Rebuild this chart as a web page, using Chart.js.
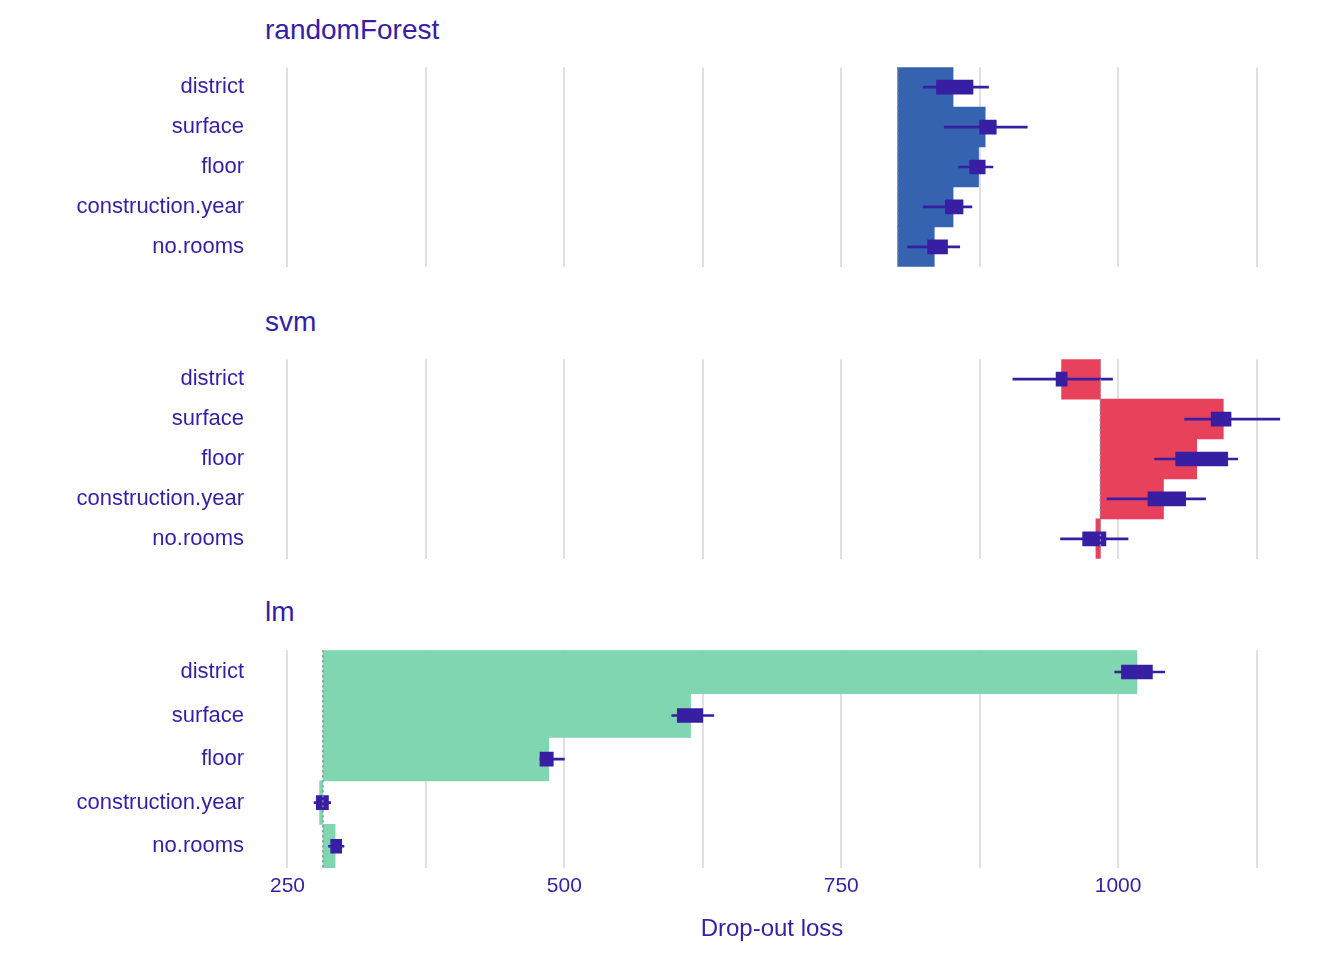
<!DOCTYPE html>
<html><head><meta charset="utf-8">
<script src="https://cdn.jsdelivr.net/npm/chart.js"></script>
<style>
body{margin:0;width:1344px;height:960px;background:#fff;position:relative;font-family:"Liberation Sans",Arial,sans-serif;overflow:hidden}
.t{position:absolute;left:265px;color:#371ea3;font-size:28px;line-height:28px}
.c{position:absolute;left:0;width:1344px}
</style></head><body>
<div class="t" style="top:16px">randomForest</div>
<div class="t" style="top:308px">svm</div>
<div class="t" style="top:598px">lm</div>
<div class="c" style="top:44px;height:246px"><canvas id="c0"></canvas></div>
<div class="c" style="top:336px;height:246px"><canvas id="c1"></canvas></div>
<div class="c" style="top:627px;height:333px"><canvas id="c2"></canvas></div>
<script>
const variables = ["district","surface","floor","construction.year","no.rooms"];
const models = ["randomForest","svm","lm"];
const baselines = [801, 984, 282];
const lossRF  = [851, 880, 874, 851, 834];
const lossSVM = [949, 1095, 1071, 1041, 980];
const lossLM  = [1017, 614, 486, 279, 293];
const boxLoRF  = [836, 875, 866, 844, 828], boxHiRF  = [869, 890, 880, 860, 846];
const whLoRF   = [824, 843, 856, 824, 810], whHiRF   = [883, 918, 887, 868, 857];
const boxLoSVM = [944, 1084, 1052, 1027, 968], boxHiSVM = [954, 1102, 1099, 1061, 989];
const whLoSVM  = [905, 1060, 1033, 990, 948], whHiSVM  = [995, 1146, 1108, 1079, 1009];
const boxLoLM  = [1003, 602, 478, 276, 289], boxHiLM  = [1031, 625, 490, 287, 299];
const whLoLM   = [997, 597, 478, 274, 287], whHiLM   = [1042, 635, 500, 289, 301];
const xTicks = [250,375,500,625,750,875,1000,1125];
const colors = ["#3563b0","#e8415c","#7fd6b0"];
const ink = "#371ea3";

const losses=[lossRF,lossSVM,lossLM], bl=[boxLoRF,boxLoSVM,boxLoLM], bh=[boxHiRF,boxHiSVM,boxHiLM],
      wl=[whLoRF,whLoSVM,whLoLM], wh=[whHiRF,whHiSVM,whHiLM];

const baseLine = {id:'base', afterDatasetsDraw(ch){
  const x = ch.scales.x.getPixelForValue(ch.options.plugins.base.v);
  const ctx=ch.ctx, a=ch.chartArea; ctx.save(); ctx.strokeStyle="#8c8c9c"; ctx.lineWidth=1.5;
  ctx.setLineDash([2,3]); ctx.beginPath(); ctx.moveTo(x,a.top); ctx.lineTo(x,a.bottom); ctx.stroke(); ctx.restore();
}};

models.forEach((m,i)=>{
  const last = i===2;
  new Chart(document.getElementById('c'+i),{
    type:'bar',
    data:{labels:variables,datasets:[
      {data:variables.map((v,j)=>[bl[i][j],bh[i][j]]),backgroundColor:ink,barThickness:14,grouped:false,order:0},
      {data:variables.map((v,j)=>[wl[i][j],wh[i][j]]),backgroundColor:ink,barThickness:2,grouped:false,order:1},
      {data:variables.map((v,j)=>[baselines[i],losses[i][j]]),backgroundColor:colors[i],categoryPercentage:1,barPercentage:1,grouped:false,order:2}
    ]},
    plugins:[baseLine],
    options:{indexAxis:'y',responsive:true,maintainAspectRatio:false,animation:false,
      layout:{padding:{left:0,right:62,top:0,bottom:last?12:0}},
      plugins:{legend:{display:false},tooltip:{enabled:false},base:{v:baselines[i]}},
      scales:{
        x:{min:227,max:1148,
          afterBuildTicks(s){s.ticks=xTicks.map(v=>({value:v}));},
          grid:{color:"#e0e0e0",lineWidth:2,drawTicks:false},border:{display:false},
          ticks:{display:last,padding:6,color:ink,font:{size:21,family:"Liberation Sans"},
            callback:(v)=>v%250===0?v:''},
          title:{display:last,text:"Drop-out loss",color:ink,font:{size:24,family:"Liberation Sans"},padding:{top:10}}},
        y:{grid:{display:false},border:{display:false},
          afterFit(s){s.width=262;},
          ticks:{color:ink,padding:10,font:{size:22,family:"Liberation Sans"}}}
      }}
  });
});
</script></body></html>
